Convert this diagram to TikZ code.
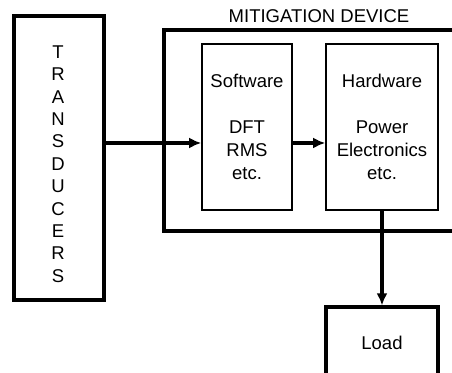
\documentclass[tikz,border=0pt]{standalone}
\usepackage{fontspec}
\setmainfont{Liberation Sans}
\usetikzlibrary{arrows.meta}
\begin{document}
\begin{tikzpicture}[x=0.5pt, y=-0.5pt,
  heavy/.style={draw=black, line width=1.6pt},
  light/.style={draw=black, line width=0.8pt},
  flow/.style={line width=1.6pt, -{Latex[length=6pt, width=5.5pt]}},
  txt/.style={font=\fontsize{9.25}{11.5}\selectfont, align=center, inner sep=0pt}]
\useasboundingbox (0,0) rectangle (452,373);
\clip (0,0) rectangle (452,373);
% transducers column
\node[heavy, minimum width=45pt, minimum height=142pt, inner sep=0pt] (trans) at (59,158) {};
\node[txt, font=\fontsize{9.25}{11.2}\selectfont] (translbl) at (58,164)
  {T\\R\\A\\N\\S\\D\\U\\C\\E\\R\\S};
% mitigation device frame, open to the right
\draw[heavy] (470,30) -- (164,30) -- (164,231) -- (470,231);
\node[txt] (mitlbl) at (319,16) {MITIGATION DEVICE};
% software and hardware blocks
\node[light, txt, minimum width=45pt, minimum height=83pt] (soft) at (247,127)
  {Software\\ \\DFT\\RMS\\etc.};
\node[light, txt, minimum width=56pt, minimum height=83pt] (hard) at (382,127)
  {Hardware\\ \\Power\\Electronics\\etc.};
% load
\node[heavy, txt, minimum width=56pt, minimum height=36pt] (load) at (382,343) {Load};
% signal path
\coordinate (sig) at (0,143);
\draw[flow] (trans.east |- sig) -- (soft.west |- sig);
\draw[flow] (soft.east |- sig) -- (hard.west |- sig);
\draw[flow] (hard.south) -- (load.north);
\end{tikzpicture}
\end{document}
